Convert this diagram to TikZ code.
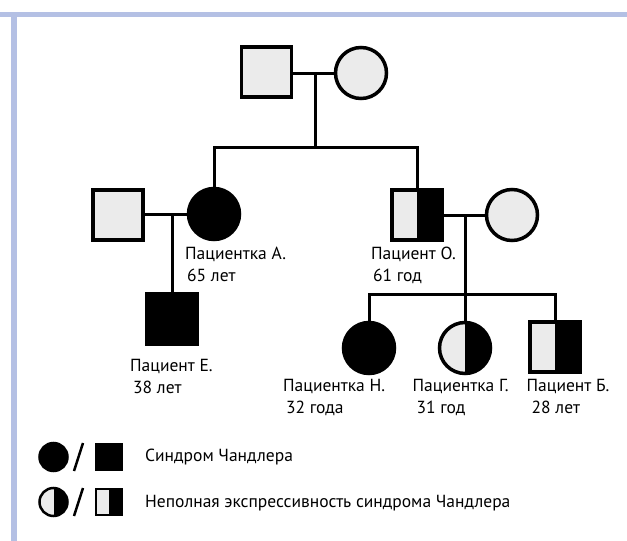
\documentclass[tikz,border=0pt]{standalone}
\usepackage{fontspec}
\setmainfont{PT Sans}
\definecolor{lightfill}{HTML}{EBEBEB}
\definecolor{framecol}{HTML}{B4C0E4}
\begin{document}
\begin{tikzpicture}[x=1pt,y=-1pt,
  person/.style={draw=black, line width=3.5pt, fill=lightfill, inner sep=0pt},
  male/.style={person, rectangle, minimum size=50pt},
  female/.style={person, circle, minimum size=51pt},
  aff/.style={fill=black},
  half/.style={path picture={\fill[black] (path picture bounding box.north) rectangle (path picture bounding box.south east);}},
  link/.style={line width=3pt},
  lbl/.style={anchor=base west, inner sep=0pt, font=\fontsize{17.5}{20}\selectfont},
  legm/.style={person, rectangle, line width=2.5pt, minimum size=26pt},
  legf/.style={person, circle, line width=2.5pt, minimum size=28pt},
  slash/.style={line width=2.5pt},
]
\useasboundingbox (0,0) rectangle (627,541);
\fill[white] (0,0) rectangle (627,541);
% frame
\fill[framecol] (0,12) rectangle (627,17);
\fill[framecol] (11,12) rectangle (16.5,541);

% generation 1
\node[male] (F1) at (266.5,72) {};
\node[female] (M1) at (361,73) {};
\draw[link] (F1.east |- M1) -- (M1.west);
\coordinate (c1) at (315,73);
\coordinate (s1) at (315,147);
\draw[link] (c1) -- (s1);

% generation 2
\node[female, aff] (A) at (214,214) {};
\node[male] (H) at (118,215) {};
\node[male, half] (O) at (417,215) {};
\node[female] (W) at (512,215) {};
\draw[link] (A.north) |- (s1) -| (O.north);
\draw[link] (A.west) -- (A.west -| H.east);
\draw[link] (O.east) -- (W.west);
\coordinate (c2) at (172,214);
\coordinate (c3) at (465,215);
\coordinate (s3) at (465,294);

\node[male, aff] (E) at (172,319) {};
\draw[link] (c2) -- (E.north);

% generation 3
\node[female, aff] (N) at (369,348) {};
\node[female, half] (G) at (465,348) {};
\node[male, half] (B) at (555,347) {};
\draw[link] (N.north) |- (s3) -| (B.north);
\draw[link] (c3) -- (G.north);

% labels
\node[lbl] (lA1) at (185,259.5) {Пациентка А.};
\node[lbl] (lA2) at (187,281.5) {65 лет};
\node[lbl] (lO1) at (371,259.5) {Пациент О.};
\node[lbl] (lO2) at (373,281.5) {61 год};
\node[lbl] (lE1) at (130,371.5) {Пациент Е.};
\node[lbl] (lE2) at (133,393) {38 лет};
\node[lbl] (lN1) at (283,391.5) {Пациентка Н.};
\node[lbl] (lN2) at (286,413) {32 года};
\node[lbl] (lG1) at (412.5,391.5) {Пациентка Г.};
\node[lbl] (lG2) at (416.5,413) {31 год};
\node[lbl] (lB1) at (526.5,391.5) {Пациент Б.};
\node[lbl] (lB2) at (531.5,413) {28 лет};

% legend
\node[legf, aff] (L1c) at (53.5,457) {};
\node[legm, aff] (L1s) at (109,457) {};
\node[legf, half] (L2c) at (53.5,502) {};
\node[legm, half] (L2s) at (109,502) {};
\draw[slash] (74,471) -- (83,443);
\draw[slash] (74,516) -- (83,488);
\node[lbl] (t1) at (145,461.5) {Синдром Чандлера};
\node[lbl] (t2) at (145,507) {Неполная экспрессивность синдрома Чандлера};
\end{tikzpicture}
\end{document}
